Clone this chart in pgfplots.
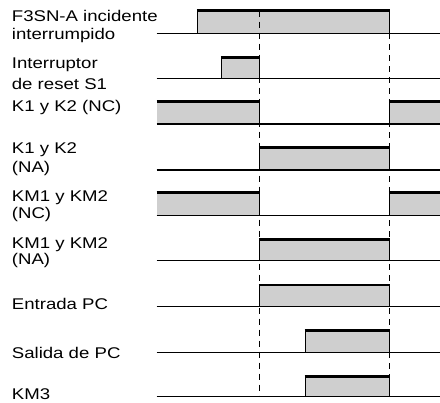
\documentclass[border=0pt]{standalone}
\usepackage{fontspec}
\setmainfont{Liberation Sans}[FakeStretch=1.2]
\usepackage{pgfplots}
\pgfplotsset{compat=1.18}
\definecolor{sigfill}{gray}{0.81}
\newcommand{\pulse}[4]{% baseline, high, x1, x2
  \addplot[draw=none, fill=sigfill] coordinates {(#3,#1) (#3,#2) (#4,#2) (#4,#1)};
}
\newcommand{\edge}[3]{% x, baseline, high
  \addplot[black, line width=1bp] coordinates {(#1,#2) (#1,#3)};
}
\newcommand{\sigtop}[3]{% high, x1, x2
  \addplot[black, line width=2.8bp] coordinates {(#2,#1) (#3,#1)};
}
\newcommand{\base}[1]{%
  \addplot[black, line width=1.2bp] coordinates {(156.7,#1) (440,#1)};
}
\begin{document}
\fontsize{15.5bp}{19.5bp}\selectfont
\begin{tikzpicture}
\useasboundingbox (0,0) rectangle (440bp,403bp);
\begin{axis}[hide axis, scale only axis, width=440bp, height=403bp,
  xmin=0, xmax=440, ymin=0, ymax=403, y dir=reverse, clip=false,
  at={(0,0)}, anchor=south west]
% fills
\pulse{33.3}{10.7}{197.3}{389.3}
\pulse{78.7}{57.3}{221.3}{259.3}
\pulse{124}{101.3}{156.7}{259.3}
\pulse{124}{101.3}{389.3}{440}
\pulse{170}{147.3}{259.3}{389.3}
\pulse{215.3}{192.7}{156.7}{259.3}
\pulse{215.3}{192.7}{389.3}{440}
\pulse{260.7}{239.3}{259.3}{389.3}
\pulse{306.7}{285}{259.3}{389.3}
\pulse{352.7}{330.7}{305}{389.3}
\pulse{396.7}{376.7}{305}{389.3}
% dashed guides
\addplot[black, line width=1bp, dash pattern=on 6bp off 5bp] coordinates {(259.3,10.7) (259.3,396.7)};
\addplot[black, line width=1bp, dash pattern=on 6bp off 5bp] coordinates {(389.3,33.3) (389.3,396.7)};
% baselines
\base{33.3}\base{78.7}\base{124}\base{170}\base{215.3}\base{260.7}\base{306.7}\base{352.7}\base{396.7}
% edges
\edge{197.3}{33.3}{10.7}\edge{389.3}{33.3}{10.7}
\edge{221.3}{78.7}{57.3}\edge{259.3}{78.7}{57.3}
\edge{259.3}{124}{101.3}\edge{389.3}{124}{101.3}
\edge{259.3}{170}{147.3}\edge{389.3}{170}{147.3}
\edge{259.3}{215.3}{192.7}\edge{389.3}{215.3}{192.7}
\edge{259.3}{260.7}{239.3}\edge{389.3}{260.7}{239.3}
\edge{259.3}{306.7}{285}\edge{389.3}{306.7}{285}
\edge{305}{352.7}{330.7}\edge{389.3}{352.7}{330.7}
\edge{305}{396.7}{376.7}\edge{389.3}{396.7}{376.7}
% tops
\sigtop{10.7}{196.8}{389.8}
\sigtop{57.3}{220.8}{259.8}
\sigtop{101.3}{156.7}{259.8}\sigtop{101.3}{388.8}{440}
\sigtop{147.3}{258.8}{389.8}
\sigtop{192.7}{156.7}{259.8}\sigtop{192.7}{388.8}{440}
\sigtop{239.3}{258.8}{389.8}
\sigtop{285}{258.8}{389.8}
\sigtop{330.7}{304.5}{389.8}
\sigtop{376.7}{304.5}{389.8}
% labels
\begin{scope}[every node/.style={anchor=base west, inner sep=0pt}]
\node at (axis cs:11.7,22) {F3SN-A incidente};
\node at (axis cs:11.7,40) {interrumpido};
\node at (axis cs:11.7,69) {Interruptor};
\node at (axis cs:11.7,90) {de reset S1};
\node at (axis cs:11.7,111) {K1 y K2 (NC)};
\node at (axis cs:11.7,153) {K1 y K2};
\node at (axis cs:11.7,172) {(NA)};
\node at (axis cs:11.7,201) {KM1 y KM2};
\node at (axis cs:11.7,218) {(NC)};
\node at (axis cs:11.7,248) {KM1 y KM2};
\node at (axis cs:11.7,264) {(NA)};
\node at (axis cs:11.7,309) {Entrada PC};
\node at (axis cs:11.7,358) {Salida de PC};
\node at (axis cs:11.7,399) {KM3};
\end{scope}
\end{axis}
\end{tikzpicture}
\end{document}
